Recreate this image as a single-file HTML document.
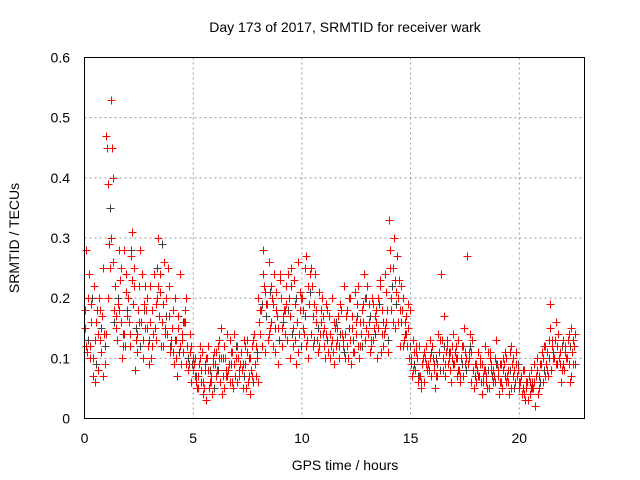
<!DOCTYPE html>
<html><head><meta charset="utf-8"><style>
body{margin:0;background:#fff}
svg{display:block;font-family:"Liberation Sans",sans-serif}
</style></head><body>
<svg id="chart" width="640" height="480">
<text x="345" y="32" font-size="14" text-anchor="middle">Day 173 of 2017, SRMTID for receiver wark</text>
<text x="345" y="470" font-size="14" text-anchor="middle">GPS time / hours</text>
<text transform="translate(19,238) rotate(-90)" font-size="14" text-anchor="middle">SRMTID / TECUs</text>
<g id="grid"></g><g id="ticks"></g><g id="marks"></g>
<rect x="84.5" y="57.5" width="500" height="361" fill="none" stroke="#000"/>
</svg>
<script>
const xTicks=[0,5,10,15,20];
const yTicks=[0,0.1,0.2,0.3,0.4,0.5,0.6];
const yTickLabels=["0","0.1","0.2","0.3","0.4","0.5","0.6"];
const startHour=0, stepHour=0.2;
const red1=[.15,.24,.10,.08,.17,.47,.53,.22,.18,.28,.20,.31,.14,.16,.22,.16,.24,.30,.19,.14,.12,.10,.24,.16,.09,.08,.05,.11,.03,.07,.09,.13,.05,.08,.11,.06,.11,.09,.04,.14,.20,.28,.19,.16,.21,.24,.18,.20,.15,.26,.20,.27,.14,.24,.12,.15,.11,.20,.13,.18,.14,.20,.11,.22,.16,.22,.12,.18,.23,.15,.33,.25,.20,.18,.14,.10,.08,.12,.06,.09,.12,.09,.24,.07,.11,.09,.13,.07,.27,.11,.06,.09,.12,.05,.08,.07,.05,.10,.12,.06,.05,.08,.03,.06,.10,.09,.12,.19,.10,.14,.13,.10,.15];
const red2=[.28,.12,.06,.20,.25,.39,.45,.15,.25,.12,.12,.25,.18,.10,.15,.10,.13,.21,.26,.22,.18,.07,.13,.20,.14,.10,.09,.06,.12,.04,.07,.15,.10,.06,.14,.10,.05,.13,.08,.07,.14,.22,.26,.12,.17,.12,.22,.10,.19,.14,.15,.10,.22,.18,.16,.10,.14,.09,.17,.12,.18,.09,.16,.12,.24,.16,.19,.10,.14,.21,.28,.15,.23,.12,.19,.07,.11,.05,.10,.13,.08,.14,.10,.13,.06,.12,.06,.15,.10,.08,.08,.04,.07,.10,.06,.04,.08,.06,.09,.11,.07,.03,.06,.09,.04,.06,.11,.08,.16,.09,.08,.14,.09];
const red3=[.11,.19,.16,.13,.09,.29,.40,.19,.10,.21,.27,.08,.22,.19,.12,.18,.20,.12,.15,.11,.09,.15,.11,.12,.06,.06,.12,.08,.05,.10,.12,.04,.08,.11,.07,.08,.13,.06,.12,.10,.18,.11,.15,.24,.09,.17,.13,.25,.09,.21,.25,.19,.12,.11,.20,.19,.12,.15,.10,.22,.10,.15,.19,.14,.13,.11,.15,.20,.12,.18,.18,.21,.12,.16,.10,.13,.06,.09,.12,.07,.05,.11,.17,.09,.12,.07,.10,.11,.14,.05,.11,.07,.05,.09,.13,.09,.11,.04,.07,.08,.04,.06,.08,.02,.07,.12,.07,.13,.12,.06,.11,.06,.12];
const red4=[.18,.10,.22,.14,.07,.45,.30,.17,.23,.14,.16,.19,.11,.24,.18,.22,.15,.17,.12,.25,.15,.13,.09,.18,.11,.09,.07,.04,.10,.06,.11,.06,.12,.09,.05,.12,.08,.05,.10,.09,.16,.24,.13,.20,.18,.20,.14,.17,.23,.11,.18,.13,.25,.16,.14,.12,.17,.11,.15,.14,.17,.13,.21,.10,.19,.14,.20,.16,.11,.24,.25,.30,.16,.20,.12,.09,.12,.07,.11,.08,.10,.07,.13,.11,.08,.11,.08,.12,.09,.13,.09,.06,.08,.11,.07,.08,.10,.07,.05,.09,.06,.04,.07,.05,.08,.11,.09,.15,.13,.10,.09,.13,.11];
const red5=[.12,.16,.13,.18,.14,.20,.26,.13,.16,.24,.14,.22,.16,.13,.20,.12,.19,.24,.14,.17,.11,.17,.14,.09,.12,.07,.10,.05,.08,.09,.08,.10,.07,.13,.09,.07,.09,.11,.07,.12,.18,.21,.14,.19,.15,.15,.19,.22,.13,.18,.14,.22,.17,.13,.18,.14,.10,.16,.12,.13,.12,.17,.14,.16,.20,.19,.13,.15,.18,.16,.20,.23,.18,.13,.15,.08,.10,.06,.09,.10,.09,.11,.08,.12,.10,.10,.07,.09,.11,.08,.07,.09,.06,.08,.10,.06,.09,.08,.10,.07,.07,.05,.04,.06,.05,.10,.08,.12,.09,.11,.12,.09,.13];
const red6=[.20,.07,.18,.11,.14,.25,.18,.28,.12,.17,.23,.13,.28,.15,.09,.14,.22,.16,.20,.13,.20,.12,.16,.08,.10,.05,.08,.10,.06,.11,.10,.07,.14,.06,.10,.09,.12,.07,.13,.06,.12,.19,.22,.11,.23,.18,.24,.12,.16,.20,.12,.24,.19,.21,.17,.18,.13,.12,.19,.10,.20,.11,.12,.18,.15,.13,.17,.22,.14,.11,.16,.27,.22,.17,.18,.11,.07,.10,.08,.12,.07,.13,.09,.10,.14,.08,.12,.10,.06,.09,.10,.08,.11,.06,.09,.09,.06,.11,.08,.06,.08,.06,.05,.07,.09,.07,.13,.10,.14,.08,.10,.07,.14];
const black1=[.13,.20,.09,.15,.12,.35,.16,.20,.14,.18,.28,.15,.12,.18,.13,.14,.25,.29,.17,.12,.13,.11,.16,.10,.09,.07,.06,.09,.08,.05,.08,.10,.07,.09,.12,.09,.07,.10,.06,.11,.19,.17,.21,.15,.13,.16,.18,.14,.20,.12,.17,.21,.13,.15,.14,.13,.12,.16,.14,.11,.15,.13,.17,.12,.20,.17,.14,.19,.16,.13,.22,.19,.16,.14,.12,.09,.07,.10,.08,.11,.10,.08,.12,.11,.09,.10,.09,.08,.12,.07,.07,.06,.08,.07,.09,.06,.07,.08,.05,.09,.05,.06,.05,.07,.06,.08,.10,.11,.09,.12,.10,.12,.09];
const X0=84.5,X1=584.5,Y0=418.5,Y1=57.5,XMAX=23,YMAX=0.6;
const xs=v=>X0+(X1-X0)*v/XMAX, ys=v=>Y0-(Y0-Y1)*v/YMAX;
const NS="http://www.w3.org/2000/svg";
function mk(tag,attrs,parent){const e=document.createElementNS(NS,tag);for(const k in attrs)e.setAttribute(k,attrs[k]);parent.appendChild(e);return e;}
const grid=document.getElementById('grid'),ticks=document.getElementById('ticks'),marks=document.getElementById('marks');
xTicks.forEach(t=>{const x=xs(t);
 if(t>0){const g=mk('line',{x1:x,x2:x,y1:Y1,y2:Y0,stroke:'#999','stroke-dasharray':'2,3'},grid);
 
 }
 const l=mk('text',{x:x,y:443,'font-size':14,'text-anchor':'middle'},ticks);l.textContent=t;
 
 });
yTicks.forEach((t,i)=>{const y=ys(t);
 if(t>0&&t<YMAX){const g=mk('line',{x1:X0,x2:X1,y1:y,y2:y,stroke:'#999','stroke-dasharray':'2,3'},grid);
 
 }
 const l=mk('text',{x:70,y:y+5,'font-size':14,'text-anchor':'end'},ticks);l.textContent=yTickLabels[i];
 
 });
function series(vals,off,color,name){
 const g=mk('g',{stroke:color,'stroke-width':1},marks);
 
 
 let d='';
 vals.forEach((v,i)=>{const x=Math.round(xs(startHour+i*stepHour+off))+0.5,y=Math.round(ys(v))+0.5;
  d+=`M${x-4} ${y}H${x+4}M${x} ${y-4}V${y+4}`;});
 const p=mk('path',{d:d,fill:'none'},g);
 
 
}
series(black1,0.15,'#404040','black-series');
series(red1,0,'#ff0000','red-series-1');
series(red2,0.07,'#ff0000','red-series-2');
series(red3,0.12,'#ff0000','red-series-3');
series(red4,0.03,'#ff0000','red-series-4');
series(red5,0.09,'#ff0000','red-series-5');
series(red6,0.17,'#ff0000','red-series-6');
</script>
</body></html>
